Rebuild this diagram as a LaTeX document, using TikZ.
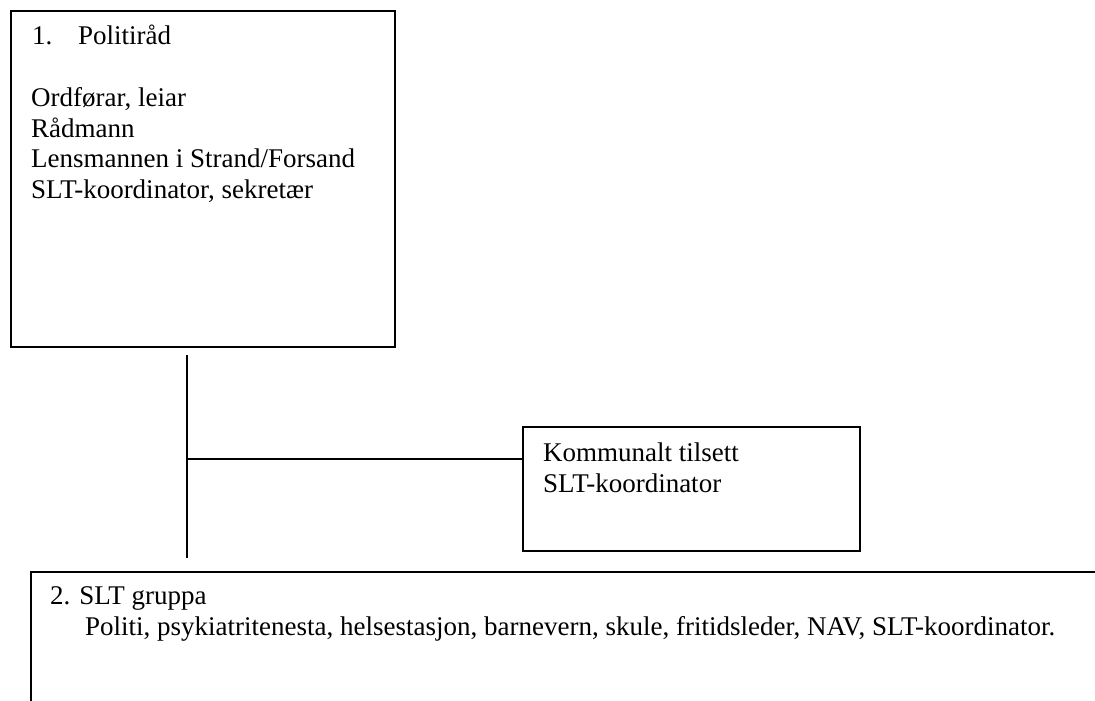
\documentclass[tikz,border=0pt]{standalone}
\usepackage{fontspec}
\setmainfont{Liberation Serif}
\usetikzlibrary{positioning}
\tikzset{
  boks/.style={draw, line width=1.8pt, anchor=north west, inner sep=0pt},
  tekst/.style={anchor=base west, inner sep=0pt, align=left,
    font=\fontsize{27}{30.5}\selectfont},
  linje/.style={line width=1.8pt}
}

\begin{document}
\begin{tikzpicture}[x=1pt, y=-1pt]
		%%%%% START %%%%%
		\clip (0, 0) rectangle (1095, 701);
		
		% boksar
		\node[boks, minimum width=384pt, minimum height=336pt] (politirad) at (10, 10) {};
		\node[boks, minimum width=337pt, minimum height=124pt] (koordinator) at (522, 426) {};
		\node[boks, minimum width=1100pt, minimum height=200pt] (sltgruppa) at (30, 571) {};
		
		% tekst (base = siste linja)
		\node[tekst] (tittel1) at (32, 45) {\makebox[46pt][l]{1.}Politiråd};
		\node[tekst] (medlem1) at (31, 198) {Ordførar, leiar\\Rådmann\\Lensmannen i Strand/Forsand\\SLT-koordinator, sekretær};
		\node[tekst] (tekst2) at (543, 492) {Kommunalt tilsett\\SLT-koordinator};
		\node[tekst] (tittel3) at (50, 604) {2. SLT gruppa};
		\node[tekst] (medlem3) at (85, 635) {Politi, psykiatritenesta, helsestasjon, barnevern, skule, fritidsleder, NAV, SLT-koordinator.};
		
		% linjer
		\coordinate (topp) at (187, 355);
		\coordinate (botn) at (187, 558);
		\coordinate (kryss) at (187, 459);
		\draw[linje] (topp) -- (botn);
		\draw[linje] (kryss) -- (kryss -| koordinator.west);
		
		%%%%% END %%%%%
	\end{tikzpicture}
\end{document}
